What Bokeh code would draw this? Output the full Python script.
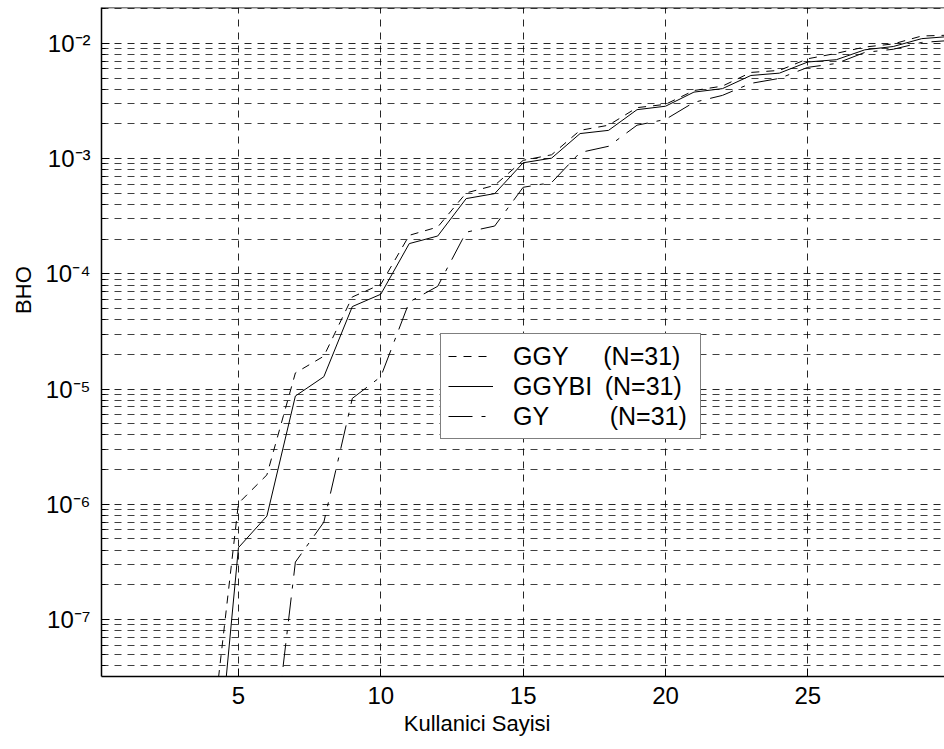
from bokeh.plotting import figure
from bokeh.models import Range1d, FixedTicker, Legend, LegendItem, Span
from bokeh.embed import file_html
from bokeh.resources import INLINE

# ---- data ----
x_ggy = list(range(4, 31))
ggy = [7e-9, 1.02e-6, 1.8e-6, 1.38e-5, 1.93e-5, 6.3e-5, 8.1e-5, 2.16e-4, 2.55e-4,
       5.04e-4, 5.86e-4, 9.66e-4, 1.08e-3, 1.76e-3, 1.95e-3, 2.77e-3, 2.96e-3,
       3.9e-3, 4.26e-3, 5.6e-3, 5.83e-3, 7.36e-3, 8.2e-3, 9.3e-3, 9.9e-3,
       1.16e-2, 1.18e-2]

x_ggybi = list(range(4, 31))
ggybi = [1e-9, 4.2e-7, 7.9e-7, 8.7e-6, 1.28e-5, 5.2e-5, 6.65e-5, 1.83e-4, 2.13e-4,
         4.5e-4, 4.97e-4, 9.2e-4, 1.01e-3, 1.65e-3, 1.76e-3, 2.66e-3, 2.85e-3,
         3.78e-3, 4.05e-3, 5.27e-3, 5.52e-3, 6.9e-3, 7.22e-3, 8.8e-3, 9.4e-3,
         1.1e-2, 1.15e-2]

x_gy = list(range(6, 31))
gy = [2.5e-9, 3.15e-7, 7.0e-7, 8.3e-6, 1.28e-5, 5.7e-5, 7.8e-5, 2.3e-4, 2.6e-4,
      5.64e-4, 6.2e-4, 1.13e-3, 1.28e-3, 1.95e-3, 2.19e-3, 3.08e-3, 3.54e-3,
      4.5e-3, 4.97e-3, 6.2e-3, 6.7e-3, 8.35e-3, 8.9e-3, 1.02e-2, 1.06e-2]

NB = "\u00a0"
labels = ["GGY" + NB * 5 + "(N=31)",
          "GGYBI\u2002(N=31)",
          "GY" + NB * 8 + "\u2009(N=31)"]

x_ticks = [5, 10, 15, 20, 25]
y_exponents = [-7, -6, -5, -4, -3, -2]
y_tick_labels = ["10\u207b\u2077", "10\u207b\u2076", "10\u207b\u2075",
                 "10\u207b\u2074", "10\u207b\u00b3", "10\u207b\u00b2"]
x_title = "Kullanici Sayisi"
y_title = "BHO"

x_lo, x_hi = 0.19, 29.8
y_lo, y_hi = 3.2e-8, 2.05e-2

FONT = "Liberation Sans"

p = figure(frame_width=843, frame_height=669, y_axis_type="log",
           x_range=Range1d(x_lo, x_hi), y_range=Range1d(y_lo, y_hi),
           output_backend="svg", toolbar_location=None,
           min_border_left=101, min_border_top=7, min_border_right=0,
           min_border_bottom=70, background_fill_color="white",
           border_fill_color="white")
p.outline_line_color = None

r1 = p.line(x_ggy, ggy, line_color="black", line_width=1, line_dash="8 7")
r2 = p.line(x_ggybi, ggybi, line_color="black", line_width=1)
r3 = p.line(x_gy, gy, line_color="black", line_width=1, line_dash="24 9 4 9")

# ticks / grid
y_major = [10.0 ** e for e in y_exponents]
y_minor = [k * 10.0 ** e for e in range(-8, -1) for k in range(2, 10)]
p.yaxis.ticker = FixedTicker(ticks=y_major, minor_ticks=y_minor)
p.xaxis.ticker = FixedTicker(ticks=x_ticks)
p.yaxis.major_label_overrides = {v: s for v, s in zip(y_major, y_tick_labels)}

for ax in (p.xaxis[0], p.yaxis[0]):
    ax.axis_line_color = "black"
    ax.axis_line_width = 1.5
    ax.major_tick_in = 8
    ax.major_tick_out = 0
    ax.minor_tick_in = 4
    ax.minor_tick_out = 0
    ax.major_tick_line_color = "black"
    ax.minor_tick_line_color = "black"
    ax.major_label_text_font = FONT
    ax.major_label_text_font_size = "24px"
    ax.major_label_text_color = "black"
    ax.axis_label_text_font = FONT
    ax.axis_label_text_font_size = "22px"
    ax.axis_label_text_font_style = "normal"
    ax.axis_label_text_color = "black"

p.xaxis.minor_tick_line_color = None
p.xaxis.major_label_standoff = 10
p.yaxis.major_label_standoff = 11

# axis titles: the reference has them off the axis centre (x title left, y title up);
# padding with no-break spaces shifts the visible text the same way
p.xaxis.axis_label = x_title + NB * 15
p.xaxis.axis_label_standoff = 4
p.yaxis.axis_label = NB * 17 + y_title
p.yaxis.axis_label_standoff = 6

for g in (p.xgrid[0], p.ygrid[0]):
    g.grid_line_color = "black"
    g.grid_line_width = 1
    g.grid_line_dash = "7 6"
    g.grid_line_alpha = 0.85
p.ygrid.minor_grid_line_color = "black"
p.ygrid.minor_grid_line_dash = "7 6"
p.ygrid.minor_grid_line_alpha = 0.75

# top box edge
p.add_layout(Span(location=y_hi, dimension="width", line_color="black", line_width=1.5))

legend = Legend(items=[LegendItem(label=labels[0], renderers=[r1]),
                       LegendItem(label=labels[1], renderers=[r2]),
                       LegendItem(label=labels[2], renderers=[r3])],
                location=(339, 237))
legend.label_text_font = FONT
legend.label_text_font_size = "25px"
legend.label_text_color = "black"
legend.border_line_color = "black"
legend.border_line_width = 1.5
legend.background_fill_color = "white"
legend.background_fill_alpha = 1
legend.padding = 7
legend.margin = 0
legend.spacing = 0
legend.glyph_width = 45
legend.glyph_height = 30
legend.label_height = 30
legend.label_standoff = 20
legend.label_width = 180
p.add_layout(legend)

open("out.html", "w").write(file_html(p, INLINE))
